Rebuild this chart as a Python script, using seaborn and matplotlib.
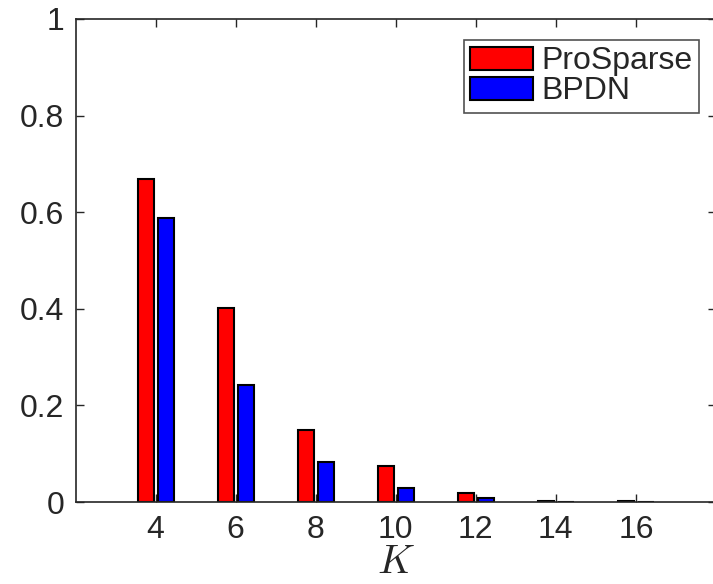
import numpy as np
import pandas as pd
import matplotlib
matplotlib.use("Agg")
import matplotlib.pyplot as plt
import seaborn as sns

K_values = [4, 6, 8, 10, 12, 14, 16]
prosparse = [0.669, 0.402, 0.149, 0.075, 0.019, 0.003, 0.002]
bpdn = [0.587, 0.242, 0.082, 0.030, 0.009, 0.001, 0.001]
series_names = ["ProSparse", "BPDN"]
y_ticks = [0, 0.2, 0.4, 0.6, 0.8, 1]
y_ticklabels = ["0", "0.2", "0.4", "0.6", "0.8", "1"]

df = pd.DataFrame({
    "K": K_values * 2,
    "value": prosparse + bpdn,
    "method": [series_names[0]] * len(K_values) + [series_names[1]] * len(K_values),
})

sns.set_style("ticks")
plt.rcParams["font.family"] = ["Liberation Sans", "DejaVu Sans"]
plt.rcParams["mathtext.fontset"] = "cm"

fig = plt.figure(figsize=(7.13, 5.84), dpi=100)
ax = fig.add_axes([75.5 / 713, 82 / 584, (716 - 75.5) / 713, (502 - 19) / 584])

sns.barplot(data=df, x="K", y="value", hue="method", native_scale=True,
            palette=["#FF0000", "#0000FF"], width=0.5, gap=0.2,
            edgecolor="black", linewidth=1.5, ax=ax, errorbar=None, saturation=1)

ax.set_xlim(2, 18)
ax.set_ylim(0, 1)
ax.set_xticks(K_values)
ax.set_xticklabels([str(k) for k in K_values])
ax.set_yticks(y_ticks)
ax.set_yticklabels(y_ticklabels)
ax.tick_params(direction="in", length=6, width=1, colors="#262626",
               labelsize=23, top=True, right=True)
ax.tick_params(axis="y", pad=8)
ax.tick_params(axis="x", pad=9)
for s in ax.spines.values():
    s.set_visible(True)
    s.set_color("#262626")
    s.set_linewidth(1.2)
ax.set_xlabel("$K$", fontsize=29, labelpad=-1)
ax.set_ylabel("")

leg = ax.legend(loc="upper right", bbox_to_anchor=((699 - 75.5) / 640.5, (502 - 40) / 483),
                frameon=True, fancybox=False, fontsize=23, handlelength=1.97,
                handleheight=0.75, handletextpad=0.27, borderpad=0.2,
                labelspacing=0.0, borderaxespad=0.0)
leg.get_frame().set_edgecolor("#262626")
leg.get_frame().set_linewidth(1.2)
for h in leg.legend_handles:
    h.set_edgecolor("black")
    h.set_linewidth(1.5)

fig.savefig("out.png", dpi=100)
